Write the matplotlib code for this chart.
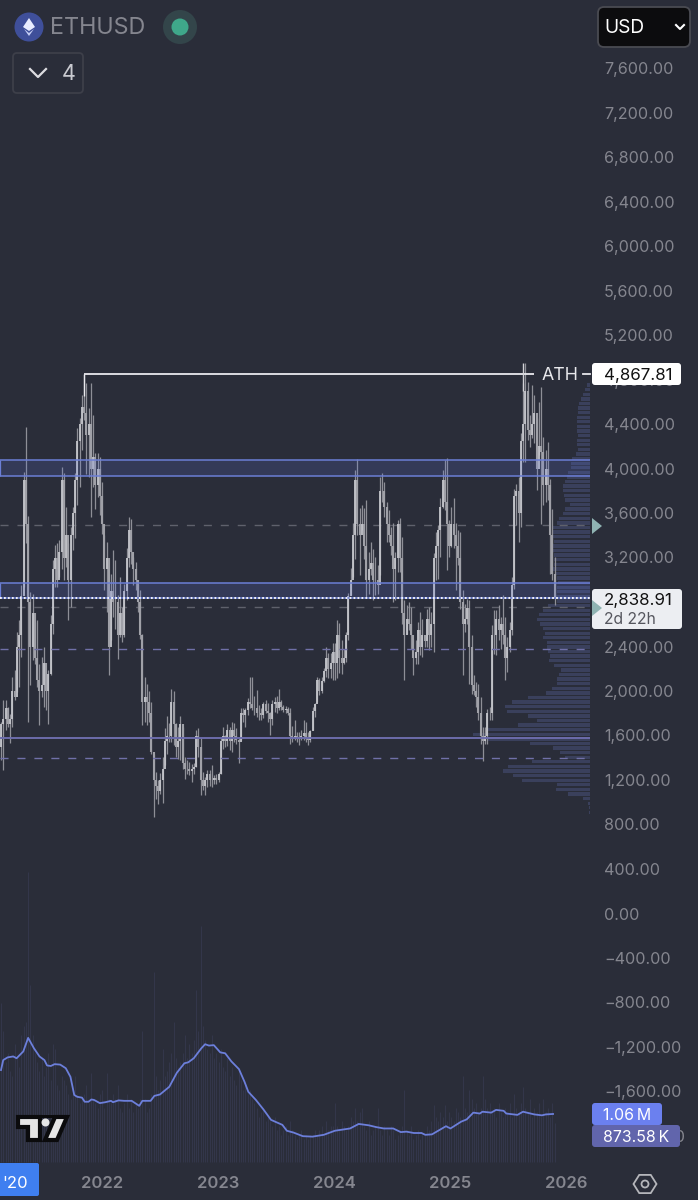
import numpy as np
import matplotlib
matplotlib.use('Agg')
import matplotlib.pyplot as plt
from matplotlib.patches import Rectangle, Polygon, Circle, FancyBboxPatch

plt.rcParams['font.family'] = ['Inter', 'DejaVu Sans']

# weekly candles
highs = [
    2021, 1721, 1916, 1922, 1856, 1796, 2126, 2186, 2531, 2636, 2951,
    3971, 4370, 3572, 2891, 2876, 2621, 2636, 2246, 2306, 2396,
    2156, 2186, 2681, 3176, 3311, 3326, 3356, 4016, 3956, 3656,
    3332, 3476, 3656, 3956, 4360, 4450, 4660, 4849, 4765, 4540,
    4771, 4480, 4135, 4141, 4105, 3880, 3401, 3341, 2711, 3056,
    3266, 3182, 2861, 3026, 2756, 2966, 3281, 3566, 3542, 3206,
    3161, 2966, 2906, 2516, 2126, 2066, 2000, 1901, 1438, 1273,
    1198, 1264, 1408, 1663, 1774, 1708, 2017, 1999, 1708, 1678,
    1777, 1678, 1408, 1384, 1363, 1348, 1354, 1648, 1663, 1588,
    1273, 1228, 1288, 1294, 1333, 1243, 1258, 1273, 1588, 1672,
    1603, 1702, 1678, 1723, 1708, 1663, 1588, 1843, 1843, 1843,
    1933, 2128, 2122, 1952, 2008, 1873, 1843, 1903, 1918, 1888,
    1813, 1918, 1942, 1954, 2014, 1918, 1873, 1864, 1852, 1843,
    1684, 1738, 1633, 1633, 1648, 1738, 1723, 1633, 1648, 1852,
    1894, 2122, 2113, 2122, 2203, 2392, 2344, 2338, 2428, 2428,
    2638, 2608, 2456, 2381, 2531, 2882, 3110, 3506, 3986, 4082,
    3641, 3671, 3641, 3716, 3251, 3341, 3272, 3206, 3131, 3926,
    3956, 3881, 3701, 3626, 3470, 3506, 3251, 3536, 3551, 3380,
    2816, 2771, 2801, 2756, 2471, 2456, 2621, 2711, 2651, 2501,
    2741, 2756, 2711, 3236, 3431, 3491, 3731, 3986, 4076, 4091,
    3536, 3656, 3731, 3506, 3446, 3431, 2906, 2786, 2830, 2821,
    2500, 2140, 2080, 2060, 1945, 1675, 1675, 1840, 1855, 2590,
    2725, 2725, 2770, 2665, 2860, 2665, 2485, 2620, 3025, 3820,
    3865, 3925, 4315, 4771, 4948, 4780, 4480, 4750, 4660, 4450,
    4600, 4735, 4285, 4165, 4240, 3910, 3640, 3205,
]
lows = [
    1406, 1376, 1286, 1646, 1676, 1532, 1676, 1916, 1991, 2036, 2306,
    2936, 3326, 1721, 2051, 2276, 2246, 2036, 1691, 1946, 1856,
    1826, 1706, 2141, 2516, 2936, 2936, 3026, 3101, 2996, 3116,
    2636, 2756, 3266, 3371, 3670, 3835, 4165, 4435, 3955, 3925,
    3565, 3835, 3640, 3745, 3580, 3415, 2906, 2711, 2141, 2456,
    2666, 2561, 2291, 2486, 2441, 2486, 2816, 3116, 3146, 2951,
    2906, 2711, 2471, 1691, 1721, 1691, 1721, 1436, 868, 1033,
    988, 1078, 994, 1333, 1438, 1543, 1543, 1513, 1408, 1393,
    1378, 1303, 1213, 1252, 1243, 1183, 1252, 1318, 1408, 1063,
    1108, 1063, 1138, 1144, 1138, 1168, 1168, 1183, 1258, 1483,
    1498, 1504, 1468, 1453, 1543, 1528, 1354, 1558, 1723, 1678,
    1783, 1843, 1828, 1783, 1768, 1738, 1738, 1753, 1798, 1723,
    1603, 1693, 1813, 1804, 1828, 1828, 1813, 1798, 1783, 1528,
    1543, 1558, 1543, 1519, 1558, 1558, 1543, 1513, 1543, 1648,
    1768, 1903, 1963, 1978, 2083, 2128, 2113, 2113, 2098, 2098,
    2113, 2158, 2156, 2246, 2261, 2456, 2861, 3026, 3191, 3401,
    3041, 3446, 3191, 2846, 2876, 3041, 2816, 2861, 2876, 3041,
    3701, 3566, 3341, 3341, 3221, 2801, 2816, 3071, 3071, 2606,
    2096, 2516, 2546, 2381, 2141, 2246, 2246, 2321, 2306, 2396,
    2396, 2366, 2396, 2351, 2996, 3011, 3206, 3641, 3626, 3086,
    3206, 3296, 3281, 2906, 3131, 2741, 2141, 2531, 2605, 2065,
    1975, 1960, 1855, 1735, 1525, 1375, 1525, 1525, 1735, 1735,
    2335, 2320, 2455, 2380, 2425, 2095, 2170, 2350, 2500, 2920,
    3490, 3340, 3475, 4060, 4060, 4255, 4195, 4270, 4225, 3805,
    4120, 3505, 3670, 3700, 3715, 3055, 2995, 2770,
]
closes = [
    1500, 1700, 1750, 1850, 1700, 1750, 2000, 1950, 2400, 2500, 2850,
    3900, 3500, 2800, 2400, 2700, 2300, 2100, 2000, 2050, 2250,
    2000, 2150, 2600, 3100, 3200, 3000, 3250, 3900, 3200, 3400,
    3000, 3400, 3600, 3900, 4250, 4400, 4550, 4500, 4300, 4400,
    4000, 4100, 3850, 4000, 3750, 3500, 3100, 3200, 2400, 2900,
    2800, 2800, 2500, 2700, 2500, 2900, 3200, 3450, 3250, 3100,
    3000, 2800, 2500, 1900, 1950, 1900, 1800, 1450, 1200, 1150,
    1100, 1200, 1300, 1550, 1600, 1600, 1900, 1700, 1500, 1550,
    1700, 1350, 1300, 1300, 1280, 1300, 1320, 1600, 1500, 1200,
    1150, 1200, 1250, 1200, 1200, 1220, 1200, 1250, 1550, 1600,
    1550, 1650, 1550, 1650, 1600, 1560, 1540, 1800, 1780, 1830,
    1900, 1880, 1850, 1850, 1800, 1800, 1780, 1880, 1820, 1800,
    1750, 1880, 1900, 1850, 1900, 1860, 1830, 1840, 1800, 1600,
    1580, 1600, 1570, 1590, 1600, 1620, 1580, 1560, 1640, 1820,
    1880, 2100, 2000, 2090, 2180, 2300, 2200, 2250, 2350, 2250,
    2500, 2300, 2250, 2300, 2500, 2850, 3000, 3400, 3900, 3500,
    3400, 3500, 3300, 3000, 3100, 3150, 3000, 3000, 2950, 3800,
    3800, 3650, 3500, 3400, 3300, 3100, 3200, 3500, 3200, 2700,
    2500, 2650, 2600, 2500, 2300, 2350, 2550, 2400, 2500, 2450,
    2650, 2500, 2600, 3200, 3300, 3450, 3650, 3900, 3700, 3500,
    3300, 3500, 3400, 3300, 3200, 2800, 2600, 2650, 2750, 2400,
    2050, 2000, 1950, 1800, 1600, 1550, 1600, 1800, 1800, 2500,
    2500, 2650, 2550, 2600, 2500, 2300, 2400, 2550, 2950, 3750,
    3800, 3600, 4250, 4400, 4700, 4350, 4300, 4400, 4500, 4000,
    4200, 4150, 3850, 4000, 3850, 3400, 3050, 2839,
]
first_open = 1700

# weekly volume in millions
volumes = [
    3.0, 3.5, 2.9, 2.2, 2.4, 2.0, 1.9, 2.6, 2.3, 2.1, 2.8,
    3.0, 3.1, 6.4, 3.9, 2.8, 2.4, 2.2, 2.0, 2.3, 1.9,
    2.1, 2.4, 1.8, 2.6, 2.5, 1.7, 1.6, 1.9, 1.8, 1.7,
    1.5, 1.4, 1.6, 1.9, 1.5, 1.3, 1.4, 1.5, 1.7, 1.3,
    1.96, 1.4, 1.3, 1.2, 1.5, 1.6, 1.2, 1.96, 1.4, 1.3,
    1.5, 1.4, 1.7, 1.2, 1.1, 1.3, 1.5, 1.2, 1.4, 1.1,
    1.3, 1.2, 1.4, 2.9, 1.4, 1.1, 1.2, 1.5, 4.2, 1.9,
    1.6, 1.8, 2.5, 1.9, 2.0, 2.2, 2.4, 3.1, 2.3, 2.1,
    2.2, 2.4, 2.8, 2.3, 2.6, 2.4, 2.7, 3.8, 2.9, 5.2,
    3.0, 2.7, 2.5, 2.4, 2.8, 2.3, 2.4, 2.2, 2.5, 2.1,
    2.0, 2.3, 1.9, 2.1, 1.8, 1.7, 2.0, 1.8, 1.6, 1.7,
    1.5, 1.6, 1.4, 1.3, 1.2, 1.0, 1.1, 1.2, 0.9, 1.0,
    0.9, 0.8, 1.0, 0.7, 0.8, 0.6, 0.7, 0.8, 0.6, 0.9,
    0.7, 0.6, 0.5, 0.6, 0.7, 0.5, 0.6, 0.5, 0.6,
    0.6, 0.7, 0.6, 0.7, 0.8, 0.6, 0.9, 0.7, 0.8, 0.8,
    1.3, 0.8, 0.7, 0.9, 0.8, 0.7, 0.8, 1.0, 0.9, 1.2,
    0.9, 1.1, 1.2, 0.8, 0.7, 0.9, 0.6, 0.7, 0.8, 1.2,
    0.7, 0.6, 0.8, 0.7, 0.6, 0.8, 0.7, 0.5, 0.6, 0.7,
    0.8, 1.6, 0.7, 0.6, 0.8, 0.5, 0.6, 0.7, 0.5, 0.6,
    0.6, 0.8, 0.7, 0.9, 1.25, 1.0, 0.9, 1.1, 1.0, 1.25,
    0.9, 1.1, 1.0, 0.9, 1.2, 1.1, 1.0, 1.9, 1.2, 1.1,
    1.6, 1.4, 1.2, 1.3, 1.1, 1.2, 1.9, 1.4, 1.2, 1.3,
    1.1, 1.2, 1.0, 1.3, 1.1, 1.0, 1.2, 1.1, 1.3, 1.0,
    1.5, 1.2, 1.1, 1.3, 1.65, 1.2, 1.1, 1.4, 1.0, 1.2,
    1.1, 1.3, 1.0, 1.4, 1.1, 1.2, 1.0, 1.3, 0.87,
]

# volume average line, week number and value
ma_week = [0, 1, 3, 5.5, 7, 10, 12.2, 14.8, 17.3, 19.5, 20.7, 22.4, 24.1, 26.6, 29.1,
           31.2, 32.9, 34.2, 36.4, 37.6, 39.3, 40.6, 41.8, 44.4, 46.9, 49.4, 50.3,
           52.8, 55.3, 58.7, 62.1, 63.5, 67.2, 68.9, 71.4, 75.6, 79, 82.4, 84.1,
           86.6, 88.6, 90, 91.7, 93.4, 95.6, 98.5, 100.7, 103.5, 106.9, 109.4,
           111.1, 114.5, 117.9, 121.3, 126.4, 128.4, 131.4, 135.6, 139.9, 145, 150,
           156.8, 160.7, 165.2, 168.6, 172, 176.2, 179.6, 182.1, 185.5, 188.9,
           190.6, 193.6, 199.9, 201.9, 206.7, 209.2, 212.2, 215.1, 216.3, 220.2,
           222.4, 225.8, 227, 232, 234.5, 239.6, 243, 244.7, 248]
ma_vol = [2.03, 2.25, 2.31, 2.33, 2.29, 2.44, 2.74, 2.51, 2.33, 2.25, 2.13, 2.12, 2.16, 2.15, 2.07,
          1.88, 1.48, 1.44, 1.42, 1.33, 1.33, 1.38, 1.37, 1.30, 1.32, 1.35, 1.32,
          1.36, 1.35, 1.35, 1.24, 1.35, 1.35, 1.46, 1.49, 1.66, 1.97, 2.18, 2.20,
          2.29, 2.42, 2.51, 2.60, 2.57, 2.58, 2.42, 2.40, 2.22, 2.05, 1.77,
          1.55, 1.37, 1.16, 0.93, 0.82, 0.69, 0.65, 0.57, 0.56, 0.60, 0.69,
          0.74, 0.84, 0.81, 0.77, 0.74, 0.74, 0.66, 0.67, 0.64, 0.64,
          0.60, 0.61, 0.79, 0.74, 0.89, 0.94, 1.09, 1.07, 1.11, 1.09,
          1.15, 1.13, 1.07, 1.04, 1.11, 1.05, 1.03, 1.05, 1.06]

# volume profile, bin length from the top bin down
vp_top = 4750
vp_step = 41.3
vp_len = [3, 5, 7, 9, 11, 12, 12, 13, 13, 13, 13, 12, 13, 13, 12, 14, 18, 19, 19, 22, 23, 25,
          27, 27, 26, 25, 20, 25, 27, 31, 33, 37, 37, 37, 36, 37, 37, 36, 36, 36, 37, 35,
          33, 32, 33, 33, 35, 33, 42, 47, 51,
          53, 50, 47, 45, 47, 43, 43, 42, 40, 41, 36, 29, 31, 33, 33, 38, 44, 62, 78, 85,
          83, 62, 53, 72, 102, 117, 103, 60, 37, 30, 25, 58, 82, 87, 77, 68, 33, 34, 22,
          7, 2, 1, 1]

band_high = (3932, 4076)
band_low = (2836, 2975)
gray_dashed = [3488, 2755]
purple_dashed = [2377, 1397]
purple_solid = 1577
ath_line = 4852
last_price = 2838.91

price_ticks = list(range(7600, -2400, -400))
year_ticks = [2022, 2023, 2024, 2025, 2026]

bg = '#2a2d39'
txt = '#85868f'

fig = plt.figure(figsize=(6.98, 12), dpi=100, facecolor=bg)
ax = fig.add_axes([0, 0, 1, 1], facecolor=bg)
ax.set_xlim(2022 - 102 / 116, 2022 + 596 / 116)
ax.set_ylim(7600 - 1132 * 400 / 44.5, 7600 + 68 * 400 / 44.5)
ax.axis('off')

vol_ax = ax.twinx()
vol_ax.set_ylim(-38 / 45.3, 1162 / 45.3)
vol_ax.axis('off')

n = len(closes)
week = 2.24 / 116
x = 2022 + (554.5 - 102) / 116 - week * (n - 1 - np.arange(n))
highs = np.array(highs)
lows = np.array(lows)
closes = np.array(closes)
opens = np.r_[first_open, closes[:-1]]
x_end = 2022 + (590 - 102) / 116
x_start = ax.get_xlim()[0]

# volume
vol_ax.vlines(x[:len(volumes)], 0, volumes, color='#33364a', lw=0.75, zorder=1)
ma_x = 2022 + (1 + 2.226 * np.array(ma_week) - 102) / 116
vol_ax.plot(ma_x, ma_vol, color='#6c7fdb', lw=1.3, zorder=2)

# volume profile
vp_price = vp_top - vp_step * np.arange(len(vp_len))
vp_w = np.array(vp_len) / 116
ax.barh(vp_price, vp_w, left=x_end - vp_w, height=30, color='#3a405c', lw=0, zorder=2)

# candles
ax.vlines(x, lows, highs, color='#8e8f97', lw=0.9, zorder=3)
up = closes >= opens
ax.vlines(x[up], opens[up], closes[up], color='#c6c7cd', lw=1.3, zorder=3)
ax.vlines(x[~up], opens[~up], closes[~up], color='#a0a1a8', lw=1.5, zorder=3)

# levels
for lo, hi in [band_high, band_low]:
    ax.add_patch(Rectangle((x_start + 0.003, lo), x_end - x_start, hi - lo, fc=(0.37, 0.45, 0.85, 0.2),
                           ec='none', zorder=4))
    ax.hlines([lo, hi], x_start, x_end, color='#6b7ed6', lw=1.1, zorder=5)
    ax.vlines(x_start + 0.003, lo, hi, color='#6b7ed6', lw=0.9, zorder=5)
for p in gray_dashed:
    ax.plot([x_start, x_end], [p, p], color='#5f616c', lw=1, dashes=(5.8, 6.4), zorder=2)
for p in purple_dashed:
    ax.plot([x_start, x_end], [p, p], color='#7070a8', lw=1, dashes=(5.8, 6.4), zorder=4)
ax.hlines(purple_solid, x_start, x_end, color='#6c6cab', lw=1.4, zorder=4)
ax.plot([x_start, x_end], [last_price, last_price], color='white', lw=1.3, dashes=(1, 1.2), zorder=6)

# ATH
ath_x = x[38]
ax.hlines(ath_line, ath_x, x[234] + 0.09, color='#e9e9ee', lw=1.3, zorder=6)
ax.vlines(ath_x, 4650, ath_line, color='#e9e9ee', lw=1.0, zorder=6)
ax.vlines(x[234], 4700, max(highs), color='#d2d2d7', lw=1.0, zorder=6)

# everything below sits on top in picture pixels
ui = fig.add_axes([0, 0, 1, 1], facecolor='none')
ui.set_xlim(0, 698)
ui.set_ylim(1200, 0)
ui.axis('off')

for p in price_ticks:
    label = f'{p:,.2f}'.replace('-', '\u2212')
    y = ax.transData.transform((0, p))[1]
    ui.text(604, 1201.5 - y, label, color=txt, fontsize=11.6, va='center', ha='left', zorder=2)

for yr in year_ticks:
    px = 102 + (yr - 2022) * 116
    ui.text(px, 1184, str(yr), color=txt, fontsize=12, fontweight='semibold', ha='center', va='center')


def box(x0, y0, x1, y1, fc, ec='none', r=3, z=5, lw=1):
    ui.add_patch(FancyBboxPatch((x0 + r, y0 + r), x1 - x0 - 2 * r, y1 - y0 - 2 * r,
                                boxstyle=f'round,pad={r},rounding_size={r}', fc=fc, ec=ec, lw=lw, zorder=z))


# ATH text and price badge
ui.text(560.5, 375.5, 'ATH', color='#e8e8ec', fontsize=12.8, ha='center', va='center', zorder=6)
ui.plot([583, 590], [374, 374], color='#e8e8ec', lw=1.3, zorder=6)
box(592, 363, 681, 385, 'white')
ui.text(638, 375.5, '4,867.81', color='#111', fontsize=12.2, ha='center', va='center', zorder=6)

box(592, 589, 682, 629, '#eceef2')
ui.text(604, 601, '2,838.91', color='#111', fontsize=12.2, ha='left', va='center', zorder=6)
ui.text(604, 619, '2d 22h', color='#55565e', fontsize=11.3, ha='left', va='center', zorder=6)

for yc in [526, 608]:
    ui.add_patch(Polygon([(592, yc - 8), (602, yc), (592, yc + 8)], fc='#8fb3b2', ec='none', zorder=6))

# volume badges
box(592, 1103, 662, 1125, '#6b80ef', z=6)
ui.text(627, 1115, '1.06\u2009M', color='white', fontsize=11.4, ha='center', va='center', zorder=7)
box(592, 1125, 680, 1147, '#6165ac', z=6)
ui.text(636, 1137, '873.58\u2009K', color='white', fontsize=11.4, ha='center', va='center', zorder=7)

# header
ui.add_patch(Circle((29, 27), 14.5, fc='#3f4f9a', ec='none'))
ui.add_patch(Polygon([(29, 18), (35, 27), (29, 31), (23, 27)], fc='#e8ecff', ec='none'))
ui.add_patch(Polygon([(24, 29), (29, 33), (34, 29), (29, 36)], fc='#c5cdf5', ec='none'))
ui.text(50, 28.5, 'ETHUSD', color=txt, fontsize=16.8, ha='left', va='center')
ui.add_patch(Circle((180, 27), 17, fc='#33454a', ec='none'))
ui.add_patch(Circle((180, 27), 8.5, fc='#3fa88a', ec='none'))

box(13, 53, 83, 93, bg, ec='#3d3f49', r=4, lw=1.3)
ui.plot([30, 38, 46], [69, 77, 69], color='#dcdce0', lw=1.6, zorder=6)
ui.text(69, 74, '4', color='#c9cad0', fontsize=15.5, ha='center', va='center', zorder=6)

box(598, 7, 690, 47, '#0c0c0e', ec='#4a4b52', r=6, lw=1.3)
ui.text(604, 28, 'USD', color='white', fontsize=13.8, ha='left', va='center', zorder=6)
ui.plot([676, 680, 684], [25, 29, 25], color='white', lw=1.5, zorder=6)

# TradingView mark
for poly in [[(18, 1117), (40, 1117), (40, 1140), (28, 1140), (28, 1127), (18, 1127)],
             [(55, 1117), (67, 1117), (57, 1140), (45, 1140)]]:
    ui.add_patch(Polygon(poly, fc='#e6e6e6', ec='#0b0b0d', lw=3, zorder=4))
ui.add_patch(Circle((45.5, 1122.5), 4, fc='#e6e6e6', ec='none', zorder=5))
ui.add_patch(Rectangle((39, 1115), 17, 2.5, fc='#0b0b0d', ec='none', zorder=3))

# bottom axis
box(-6, 1163, 39, 1196, '#3f7ff0', r=2)
ui.text(15, 1184, "'20", color='white', fontsize=12, ha='center', va='center', zorder=6)
ang = np.radians(np.arange(0, 360, 60))
ui.add_patch(Polygon(np.c_[645 + 11.5 * np.cos(ang), 1184 + 10.5 * np.sin(ang)], closed=True, fc='none', ec='#b5b6bb', lw=1.3))
ui.add_patch(Circle((645, 1184), 3.5, fc='none', ec='#b5b6bb', lw=1.3))

fig.savefig('out.png', dpi=100, facecolor=bg)
